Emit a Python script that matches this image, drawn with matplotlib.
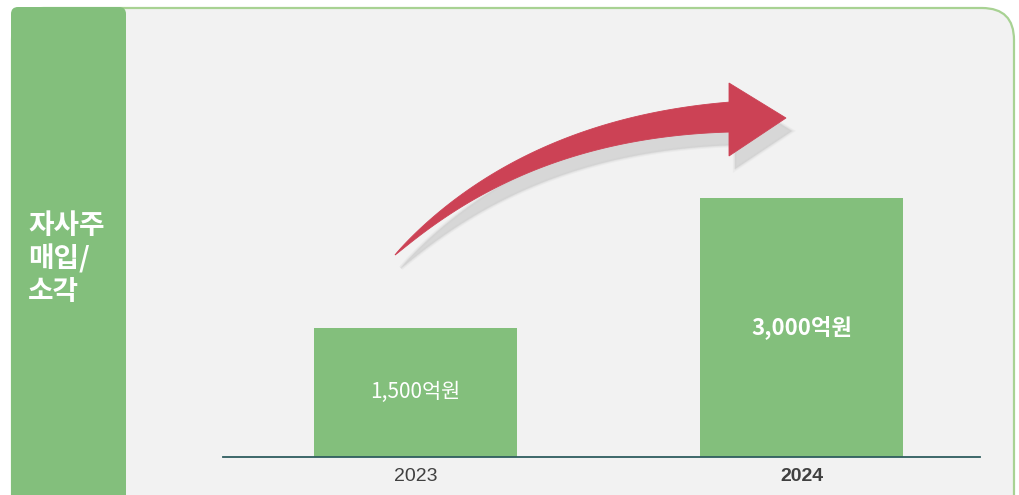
import numpy as np
import matplotlib
matplotlib.use("Agg")
import matplotlib.pyplot as plt
from matplotlib.patches import FancyBboxPatch, Polygon

# ---- data ----
years = ["2023", "2024"]
values = [1500, 3000]
value_labels = ["1,500억원", "3,000억원"]
panel_title = "자사주\n매입/\n소각"

KR = ["Noto Sans CJK KR", "DejaVu Sans"]
GREEN = "#83bf7c"
GRAY = "#f2f2f2"
RED = "#cc4255"

W, H = 1020, 495
fig = plt.figure(figsize=(W / 100, H / 100), dpi=100)
fig.patch.set_facecolor("white")

# background / decoration layer in pixel coordinates
bg = fig.add_axes([0, 0, 1, 1], zorder=0)
bg.set_xlim(0, W)
bg.set_ylim(H, 0)
bg.axis("off")

box = FancyBboxPatch((12, 8), 1002, 540, boxstyle="round,pad=0,rounding_size=32",
                     facecolor=GRAY, edgecolor="#a8d293", linewidth=1.6)
bg.add_patch(box)
panel = FancyBboxPatch((11, 7), 115, 540, boxstyle="round,pad=0,rounding_size=7",
                       facecolor=GREEN, edgecolor="none")
bg.add_patch(panel)
bg.text(28, 259, panel_title, color="white", fontsize=20, fontweight="bold",
        family=KR, ha="left", va="center", linespacing=1.2)

# curved arrow
def arrow_shapes(dx=0.0, dy=0.0):
    P0 = np.array([395.0, 255.0])
    P1 = np.array([525.0, 128.0])
    P2 = np.array([731.0, 117.0])
    t = np.linspace(0, 1, 120)[:, None]
    C = (1 - t) ** 2 * P0 + 2 * (1 - t) * t * P1 + t ** 2 * P2
    D = 2 * (1 - t) * (P1 - P0) + 2 * t * (P2 - P1)
    D = D / np.linalg.norm(D, axis=1, keepdims=True)
    N = np.column_stack([D[:, 1], -D[:, 0]])
    w = 15.0 * (t[:, 0] ** 0.75)
    top = C + N * w[:, None]
    bot = C - N * w[:, None]
    shaft = np.vstack([top, bot[::-1]])
    head = np.array([[729, 83], [786, 118], [729, 156]], dtype=float)
    off = np.array([dx, dy])
    return shaft + off, head + off

s_sh, h_sh = arrow_shapes(6, 13)
for k, a in [(3.0, 0.2), (1.5, 0.3), (0, 0.55)]:
    bg.add_patch(Polygon(s_sh, closed=True, facecolor="#cfcfcf", edgecolor="#cfcfcf",
                         linewidth=k, alpha=a))
    bg.add_patch(Polygon(h_sh, closed=True, facecolor="#cfcfcf", edgecolor="#cfcfcf",
                         linewidth=k, alpha=a))
s, h = arrow_shapes()
bg.add_patch(Polygon(s, closed=True, facecolor=RED, edgecolor=RED, linewidth=0.6))
bg.add_patch(Polygon(h, closed=True, facecolor=RED, edgecolor=RED, linewidth=0.6))

# ---- data axes ----
left_px, right_px, base_px, top_px = 223, 980, 457, 8
ax = fig.add_axes([left_px / W, (H - base_px) / H, (right_px - left_px) / W,
                   (base_px - top_px) / H], zorder=1)
ax.patch.set_alpha(0)
x = np.arange(len(years))
ax.bar(x, values, width=0.526, color=GREEN)
ax.set_xlim(-0.499, 1.462)
ax.set_ylim(0, max(values) * 449 / 259)
for sp in ["top", "right", "left"]:
    ax.spines[sp].set_visible(False)
ax.spines["bottom"].set_color("#2f5d5f")
ax.spines["bottom"].set_linewidth(1.3)
ax.set_yticks([])
ax.set_xticks(x)
ax.set_xticklabels(years, family=["Liberation Sans", "DejaVu Sans"],
                   fontsize=14, color="#404040")
ax.get_xticklabels()[1].set_fontweight("bold")
ax.tick_params(axis="x", length=0, pad=8)

ax.text(x[0], values[0] * 0.505, value_labels[0], color="white", fontsize=15,
        family=KR, ha="center", va="center", fontweight="normal")
ax.text(x[1], values[1] * 0.5, value_labels[1], color="white", fontsize=16,
        family=KR, ha="center", va="center", fontweight="bold")

fig.savefig("out.png", dpi=100)
